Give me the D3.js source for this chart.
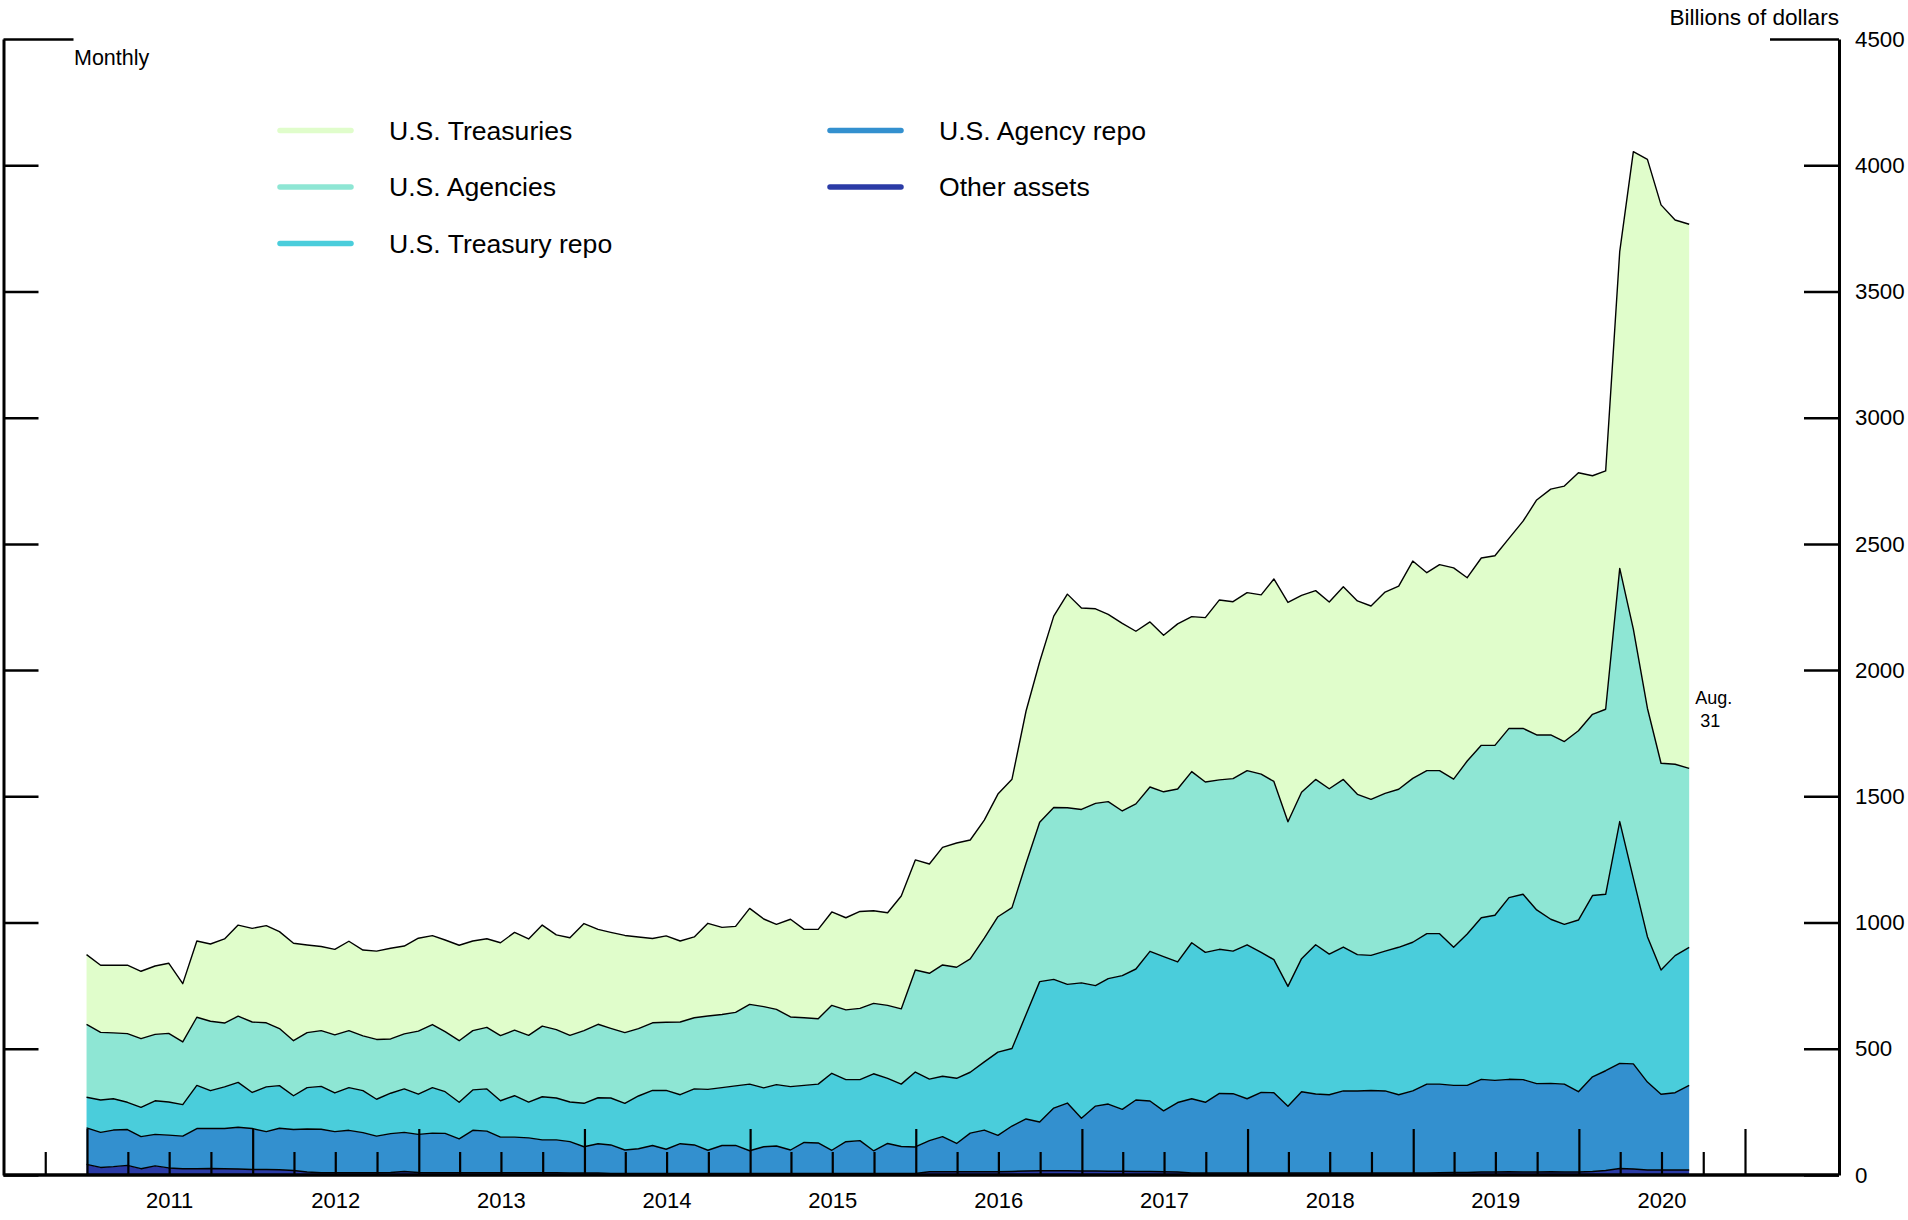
<!DOCTYPE html>
<html>
<head>
<meta charset="utf-8">
<script src="https://cdn.jsdelivr.net/npm/d3@7"></script>
<style>
  body { margin: 0; background: #fff; }
  svg { display: block; }
  text { font-family: "Liberation Sans", Arial, Helvetica, sans-serif; fill: #000; }
</style>
</head>
<body>
<svg id="chart" width="1908" height="1220"></svg>
<script>
// Government money market fund holdings, billions of dollars, month-end
// observations from Dec. 2010 through Aug. 31, 2020.
const treasuries = [
  276,266,268,271,267,271,278,231,302,306,333,361,371,385,384,386,347,333,339,354,
  340,350,359,348,368,352,363,378,355,351,368,387,382,400,375,387,424,376,380,385,
  363,334,342,321,320,367,345,341,380,347,337,387,350,354,370,365,384,367,367,447,
  436,433,466,492,471,468,486,509,603,636,758,846,798,771,742,743,684,654,620,654,
  614,651,713,701,705,710,802,869,780,748,740,763,766,766,797,805,861,784,816,837,
  726,742,751,753,821,931,974,1012,1022,945,944,1255,1892,2174,2212,2156,2155
];
const agencies = [
  289,268,261,272,272,263,272,248,270,275,253,262,279,254,226,218,218,221,230,226,
  217,237,215,218,250,250,238,244,235,244,258,260,264,280,271,264,288,291,276,280,
  267,268,270,288,282,291,290,291,316,322,298,276,268,259,269,276,282,279,289,298,
  404,419,441,440,449,490,536,558,599,631,681,700,687,722,701,652,654,651,653,685,
  678,675,671,683,690,706,706,652,659,655,655,664,635,618,625,626,649,646,646,666,
  685,683,673,670,657,693,730,724,750,718,733,1003,987,905,819,758,709
];
const treasuryRepo = [
  121,128,124,108,116,133,131,125,171,150,165,178,143,177,169,134,164,170,153,169,
  166,146,160,172,159,180,165,145,160,167,144,164,142,171,166,157,172,182,186,185,
  209,218,233,194,222,241,229,236,264,233,243,251,226,233,305,246,242,305,258,247,
  297,244,239,258,241,270,330,307,414,556,510,470,536,477,497,530,519,593,611,557,
  618,594,571,565,610,555,527,475,527,591,557,570,540,535,554,584,589,596,596,547,
  600,640,654,720,734,688,650,633,680,718,699,958,735,576,492,543,547
];
const agencyRepo = [
  145,139,145,142,127,125,130,129,159,158,159,165,162,150,164,162,170,172,163,168,
  159,145,154,155,151,157,156,134,168,165,141,141,138,130,130,124,104,116,113,93,
  98,111,96,118,113,92,111,111,90,106,109,93,123,121,92,126,130,90,119,107,
  105,123,139,112,153,165,144,180,206,193,248,268,209,257,266,245,283,279,241,275,
  294,280,315,314,294,319,318,264,322,313,310,325,325,327,325,310,325,352,351,345,
  345,367,363,366,366,350,350,348,318,375,395,416,416,348,300,306,335
];
const otherAssets = [
  42,30,33,38,25,36,28,25,25,26,25,24,22,22,21,18,12,9,9,9,
  9,9,10,14,10,9,9,9,9,9,9,9,9,9,9,8,8,8,6,6,
  6,6,6,6,6,6,6,6,6,6,6,6,6,6,6,6,6,6,6,6,
  6,13,13,13,13,13,13,14,16,17,17,17,16,16,15,15,14,14,13,12,
  8,8,8,8,8,8,8,8,8,8,8,8,8,8,8,8,8,8,9,10,
  10,12,12,13,12,12,13,12,12,14,18,26,24,20,20,20,20
];

const seriesKeys   = ["otherAssets", "agencyRepo", "treasuryRepo", "agencies", "treasuries"];
const seriesLabels = {
  treasuries: "U.S. Treasuries",
  agencies: "U.S. Agencies",
  treasuryRepo: "U.S. Treasury repo",
  agencyRepo: "U.S. Agency repo",
  otherAssets: "Other assets"
};
const seriesColors = {
  treasuries: "#e0fdcb",
  agencies: "#8ee6d4",
  treasuryRepo: "#4acddb",
  agencyRepo: "#3390cf",
  otherAssets: "#2b3ba6"
};
const yearLabels = ["2011","2012","2013","2014","2015","2016","2017","2018","2019","2020"];
const yTickValues = [0,500,1000,1500,2000,2500,3000,3500,4000,4500];

const svg = d3.select("#chart");

const frameLeft = 3.5, frameRight = 1839;
const x = d3.scaleTime()
  .domain([new Date(2011, 0, 1), new Date(2021, 0, 1)])
  .range([87, 1745]);
const y = d3.scaleLinear().domain([0, 4500]).range([1175, 39]);

// month-end dates: day 0 of a month is the last day of the previous one
const rows = treasuries.map((_, i) => ({
  date: new Date(2011, i, 0),
  treasuries: treasuries[i],
  agencies: agencies[i],
  treasuryRepo: treasuryRepo[i],
  agencyRepo: agencyRepo[i],
  otherAssets: otherAssets[i]
}));

const layers = d3.stack().keys(seriesKeys)(rows);

const area = d3.area()
  .x(d => x(d.data.date))
  .y0(d => y(d[0]))
  .y1(d => y(d[1]));
const topLine = d3.line()
  .x(d => x(d.data.date))
  .y(d => y(d[1]));

const plot = svg.append("g");
plot.selectAll("path.area")
  .data(layers)
  .join("path")
  .attr("class", "area")
  .attr("fill", d => seriesColors[d.key])
  .attr("d", area);
plot.selectAll("path.edge")
  .data(layers)
  .join("path")
  .attr("class", "edge")
  .attr("fill", "none")
  .attr("stroke", "#000")
  .attr("stroke-width", 1.4)
  .attr("stroke-linejoin", "round")
  .attr("d", topLine);

// quarterly ticks along the bottom, taller at year boundaries
const quarterTicks = d3.timeMonth.every(3).range(new Date(2010, 9, 1), new Date(2021, 0, 2));
const xAxis = svg.append("g")
  .attr("transform", `translate(0,${y(0)})`)
  .call(d3.axisBottom(x)
    .tickValues(quarterTicks)
    .tickSizeOuter(0)
    .tickFormat(() => ""));
xAxis.select(".domain").remove();
xAxis.selectAll(".tick line")
  .attr("stroke", "#000")
  .attr("stroke-width", 2.2)
  .attr("y2", d => d.getMonth() === 0 ? -46 : -23);

// year labels centred inside each year
svg.append("g").selectAll("text")
  .data(yearLabels)
  .join("text")
  .attr("x", d => x(new Date(+d, 6, 2)))
  .attr("y", 1208)
  .attr("text-anchor", "middle")
  .attr("font-size", 22)
  .text(d => d);

// right value axis
const yRight = svg.append("g")
  .attr("transform", `translate(${frameRight},0)`)
  .call(d3.axisRight(y)
    .tickValues(yTickValues)
    .tickSizeInner(-35)
    .tickSizeOuter(0)
    .tickPadding(16)
    .tickFormat(d3.format("d")));
yRight.select(".domain").attr("stroke", "#000").attr("stroke-width", 3);
yRight.selectAll(".tick line")
  .attr("stroke", "#000").attr("stroke-width", 2.5)
  .attr("x2", d => d === 4500 ? -69 : -35);
yRight.selectAll(".tick text")
  .attr("font-size", 22.3)
  .attr("font-family", "'Liberation Sans', Arial, sans-serif")
  .attr("fill", "#000");

// left frame with matching ticks, no labels
const yLeft = svg.append("g")
  .attr("transform", `translate(${frameLeft},0)`)
  .call(d3.axisLeft(y)
    .tickValues(yTickValues)
    .tickSizeInner(-35)
    .tickSizeOuter(0)
    .tickFormat(() => ""));
yLeft.select(".domain").attr("stroke", "#000").attr("stroke-width", 3);
yLeft.selectAll(".tick line")
  .attr("stroke", "#000").attr("stroke-width", 2.5)
  .attr("x2", d => d === 4500 ? 70 : 35);

// baseline
svg.append("line")
  .attr("x1", frameLeft).attr("x2", frameRight)
  .attr("y1", y(0)).attr("y2", y(0))
  .attr("stroke", "#000").attr("stroke-width", 3.5);

// annotations
svg.append("text").attr("x", 74).attr("y", 65).attr("font-size", 21.5).text("Monthly");
svg.append("text").attr("x", frameRight).attr("y", 25).attr("font-size", 22.6)
  .attr("text-anchor", "end").text("Billions of dollars");
const lastDate = rows[rows.length - 1].date;
const note = svg.append("text").attr("font-size", 18).attr("x", x(lastDate) + 6);
note.append("tspan").attr("y", 704).text("Aug.");
note.append("tspan").attr("x", x(lastDate) + 11).attr("y", 727).text("31");

// legend
const legendItems = [
  { key: "treasuries", col: 0, row: 0 },
  { key: "agencies", col: 0, row: 1 },
  { key: "treasuryRepo", col: 0, row: 2 },
  { key: "agencyRepo", col: 1, row: 0 },
  { key: "otherAssets", col: 1, row: 1 }
];
const legend = svg.append("g").selectAll("g")
  .data(legendItems)
  .join("g")
  .attr("transform", d => `translate(${277 + d.col * 550},${130.5 + d.row * 56.5})`);
legend.append("line")
  .attr("x1", 3).attr("x2", 74)
  .attr("stroke", d => seriesColors[d.key])
  .attr("stroke-width", 5.5)
  .attr("stroke-linecap", "round");
legend.append("text")
  .attr("x", 112).attr("y", 0)
  .attr("dy", "0.35em")
  .attr("font-size", 26.6)
  .text(d => seriesLabels[d.key]);
</script>
</body>
</html>
